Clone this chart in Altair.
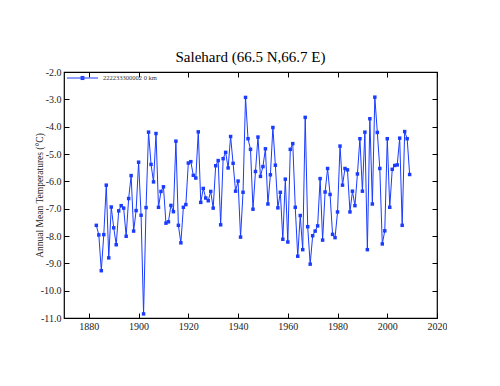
import altair as alt
import pandas as pd

# ---- data ----
years = list(range(1883, 2010))
temps = [
    -7.61, -7.96, -9.27, -7.95, -6.14, -8.80, -6.94, -7.70, -8.32, -7.08,   # 1883-1892
    -6.89, -6.98, -8.01, -6.63, -5.79, -7.82, -7.07, -5.30, -7.24, -10.85,  # 1893-1902
    -6.96, -4.20, -5.38, -6.02, -4.25, -6.95, -6.37, -6.20, -7.53, -7.48,   # 1903-1912
    -6.88, -7.11, -4.53, -7.61, -8.25, -6.95, -6.85, -5.33, -5.28, -5.78,   # 1913-1922
    -5.88, -4.19, -6.77, -6.26, -6.61, -6.71, -6.37, -6.98, -5.43, -5.24,   # 1923-1932
    -7.59, -5.17, -4.94, -5.51, -4.36, -5.34, -6.36, -5.99, -8.04, -6.40,   # 1933-1942
    -2.93, -4.44, -4.83, -7.02, -5.64, -4.38, -5.82, -5.46, -4.81, -6.83,   # 1943-1952
    -5.76, -4.03, -5.41, -6.97, -6.40, -8.12, -5.92, -8.22, -4.83, -4.62,   # 1953-1962
    -6.95, -8.74, -7.25, -8.50, -3.66, -7.66, -9.03, -7.99, -7.82, -7.63,   # 1963-1972
    -5.90, -8.15, -6.39, -5.53, -6.48, -7.94, -8.06, -7.12, -4.71, -6.14,   # 1973-1982
    -5.53, -5.58, -7.12, -6.36, -6.89, -5.73, -4.44, -6.36, -4.20, -8.50,   # 1983-1992
    -3.71, -6.83, -2.92, -4.21, -5.53, -8.29, -7.81, -4.44, -6.95, -5.56,   # 1993-2002
    -5.42, -5.40, -4.42, -7.61, -4.18, -4.44, -5.75,                        # 2003-2009
]
series_name = "222233300002 0 km"
x_ticks = [1880, 1900, 1920, 1940, 1960, 1980, 2000, 2020]
y_ticks = [-2, -3, -4, -5, -6, -7, -8, -9, -10, -11]

df = pd.DataFrame({"year": years, "temp": temps, "series": [series_name] * len(years)})

BLUE = "#1a3cff"
SERIF = "Liberation Serif, Times New Roman, Times, serif"

def xscale():
    return alt.Scale(domain=[1870, 2020], nice=False, zero=False)

def yscale():
    return alt.Scale(domain=[-11, -2], nice=False, zero=False)

legend_symbol = ("M-1,0H1"
                 "M-0.12,-0.1H0.12M-0.12,-0.05H0.12M-0.12,0H0.12"
                 "M-0.12,0.05H0.12M-0.12,0.1H0.12")

base = alt.Chart(df)

main = base.mark_line(strokeWidth=1, point=alt.OverlayMarkDef(shape="square", size=12, filled=True)).encode(
    x=alt.X("year:Q", scale=xscale(),
            axis=alt.Axis(values=x_ticks, format="d", ticks=False, domain=False, grid=False,
                          labelPadding=3, title=None, labelFont=SERIF, labelFontSize=10,
                          labelColor="#222", labelFlush=False)),
    y=alt.Y("temp:Q", scale=yscale(),
            axis=alt.Axis(values=y_ticks, ticks=False, domain=False, grid=False,
                          labelExpr="(datum.value < 0 ? '-' : '') + format(abs(datum.value), '.1f')",
                          labelPadding=3, labelFont=SERIF, labelFontSize=10, labelColor="#222",
                          title="Annual Mean Temperatures (°C)", titleFont=SERIF,
                          titleFontSize=9.5, titleFontWeight="normal", titleColor="#222",
                          titleAngle=270, titleX=-25, titleY=123,
                          titleAlign="center", titleBaseline="middle")),
    color=alt.Color("series:N", scale=alt.Scale(range=[BLUE]),
                    legend=alt.Legend(title=None, orient="none", legendX=2.5, legendY=-10,
                                      padding=0, symbolType=legend_symbol, symbolSize=961,
                                      symbolStrokeWidth=1, symbolFillColor=BLUE,
                                      labelFont=SERIF, labelFontSize=6.5, labelColor="#333",
                                      labelOffset=4.5)),
)

ticks_lb = base.mark_line(opacity=0).encode(
    x=alt.X("year:Q", scale=xscale(),
            axis=alt.Axis(orient="bottom", values=x_ticks, labels=False, domain=False, grid=False,
                          ticks=True, tickSize=5, offset=-5, title=None)),
    y=alt.Y("temp:Q", scale=yscale(),
            axis=alt.Axis(orient="left", values=y_ticks, labels=False, domain=False, grid=False,
                          ticks=True, tickSize=5, offset=-5, title=None)),
)

ticks_rt = base.mark_line(opacity=0).encode(
    x=alt.X("year:Q", scale=xscale(),
            axis=alt.Axis(orient="top", values=x_ticks, labels=False, domain=False, grid=False,
                          ticks=True, tickSize=5, offset=-5, title=None)),
    y=alt.Y("temp:Q", scale=yscale(),
            axis=alt.Axis(orient="right", values=y_ticks, labels=False, domain=False, grid=False,
                          ticks=True, tickSize=5, offset=-5, title=None)),
)

chart = alt.layer(main, ticks_lb, ticks_rt).resolve_axis(
    x="independent", y="independent"
).properties(
    width=373,
    height=246,
    autosize=alt.AutoSizeParams(type="none"),
    padding={"left": 56, "top": 64, "right": 10, "bottom": 40},
    title=alt.Title("Salehard (66.5 N,66.7 E)", font=SERIF, fontSize=15, fontWeight="normal",
                    anchor="middle", baseline="alphabetic", offset=6.5, dy=21, frame="group",
                    color="#000"),
).configure_view(
    stroke="#000", strokeWidth=1.2
).configure_axis(
    labelFont=SERIF, labelColor="#222", titleFont=SERIF, titleFontWeight="normal",
    titleColor="#222", tickColor="#000", tickWidth=1
)

chart.save("out.html", embed_options={"renderer": "svg", "actions": False})
